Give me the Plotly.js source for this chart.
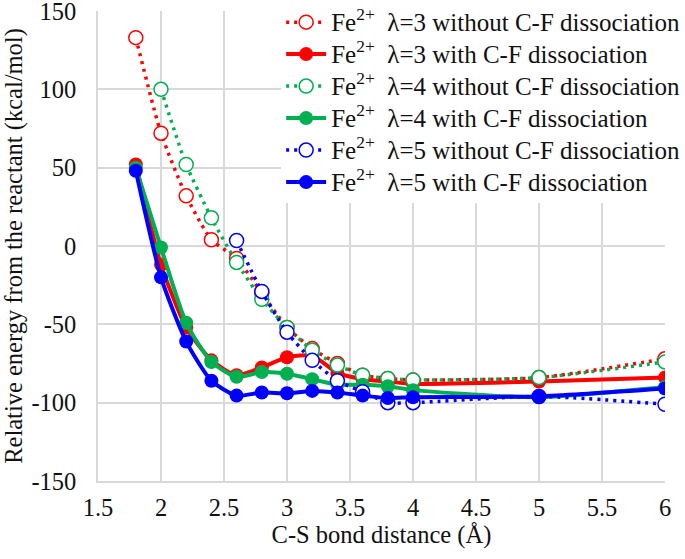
<!DOCTYPE html>
<html>
<head>
<meta charset="utf-8">
<script src="https://cdn.plot.ly/plotly-3.0.1.min.js"></script>
<style>
  body { margin: 0; background: #fff; }
  #chart { width: 685px; height: 559px; }
</style>
</head>
<body>
<div id="chart"></div>
<script>
// C-S bond distance (Angstrom)
var dist = [1.8, 2.0, 2.2, 2.4, 2.6, 2.8, 3.0, 3.2, 3.4, 3.6, 3.8, 4.0, 5.0, 6.0];

// relative energies (kcal/mol)
var l3_without = [133, 72, 32, 4, -8, -30, -52, -65.5, -75, -82.5, -84.5, -85.5, -84, -72];
var l3_with    = [52, -12, -52, -73, -82.5, -77.5, -71, -70, -81, -85, -86.5, -88, -86.5, -84];
var l4_without = [null, 100, 52, 18, -10.5, -34, -52, -66.5, -76, -82.5, -84.5, -85.5, -84, -74];
var l4_with    = [50, -1, -49, -74, -83.5, -80.5, -81.5, -85, -88.5, -88.5, -89.5, -92, -96.5, -90];
var l5_without = [null, null, null, null, 3.5, -29, -55, -73, -86, -93, -100, -100, -96, -101];
var l5_with    = [48, -20, -61, -86, -95.5, -93.5, -94, -92.5, -93.5, -95.5, -97, -96.5, -96, -91];

var yTicks = [-150, -100, -50, 0, 50, 100, 150];
var yTickText = ['-150', '-100', '-50', '0', '50', '100', '150'];

var FONT = 'Liberation Serif';
var FONTCOLOR = '#111';

// legend rows keep a small line height, text itself drawn a bit larger
function legendLabel(s) {
    return '<span style="font-size:25px">' + s + '</span>';
}

function makeTrace(label, y, color, open) {
    return {
        x: dist,
        y: y,
        name: legendLabel(label),
        type: 'scatter',
        mode: 'lines+markers',
        line: {
            color: color,
            width: open ? 3.5 : 4,
            dash: open ? '3px,5px' : 'solid',
            shape: 'spline',
            smoothing: 0.6
        },
        marker: {
            size: 14,
            color: open ? 'white' : color,
            line: {color: color, width: open ? 1.5 : 0}
        }
    };
}

var data = [
    makeTrace('Fe<sup>2+</sup>  λ=3 without C-F dissociation', l3_without, '#ff0000', true),
    makeTrace('Fe<sup>2+</sup>  λ=3 with C-F dissociation', l3_with, '#ff0000', false),
    makeTrace('Fe<sup>2+</sup>  λ=4 without C-F dissociation', l4_without, '#00b050', true),
    makeTrace('Fe<sup>2+</sup>  λ=4 with C-F dissociation', l4_with, '#00b050', false),
    makeTrace('Fe<sup>2+</sup>  λ=5 without C-F dissociation', l5_without, '#0000ff', true),
    makeTrace('Fe<sup>2+</sup>  λ=5 with C-F dissociation', l5_with, '#0000ff', false)
];

var layout = {
    width: 685,
    height: 559,
    margin: {l: 98, r: 20, t: 11, b: 78, autoexpand: false},
    paper_bgcolor: 'white',
    plot_bgcolor: 'white',
    font: {family: FONT, size: 24.5, color: FONTCOLOR},
    showlegend: true,
    legend: {
        x: 0.323, xanchor: 'left',
        y: 1.021, yanchor: 'top',
        bgcolor: 'white',
        borderwidth: 0,
        itemwidth: 40,
        tracegroupgap: 0,
        font: {family: FONT, size: 22.3, color: FONTCOLOR}
    },
    xaxis: {
        range: [1.5, 6],
        dtick: 0.5,
        showgrid: true,
        gridcolor: '#d9d9d9',
        gridwidth: 1.5,
        showline: true,
        linecolor: '#d9d9d9',
        linewidth: 1.5,
        zeroline: false,
        ticks: 'outside',
        ticklen: 4,
        tickcolor: 'rgba(0,0,0,0)',
        ticklabeloverflow: 'allow',
        tickfont: {family: FONT, size: 24.5, color: FONTCOLOR},
        title: {text: 'C-S bond distance (Å)', font: {family: FONT, size: 24.5, color: FONTCOLOR}, standoff: 4}
    },
    yaxis: {
        range: [-150, 150],
        tickvals: yTicks,
        ticktext: yTickText,
        showgrid: true,
        gridcolor: '#d9d9d9',
        gridwidth: 1.5,
        showline: true,
        linecolor: '#d9d9d9',
        linewidth: 1.5,
        zeroline: false,
        ticks: 'outside',
        ticklen: 15,
        tickcolor: 'rgba(0,0,0,0)',
        ticklabeloverflow: 'allow',
        tickfont: {family: FONT, size: 24.5, color: FONTCOLOR},
        title: {text: 'Relative energy from the reactant (kcal/mol)', font: {family: FONT, size: 24.5, color: FONTCOLOR}, standoff: 4}
    }
};

Plotly.newPlot('chart', data, layout, {displayModeBar: false});
</script>
</body>
</html>
